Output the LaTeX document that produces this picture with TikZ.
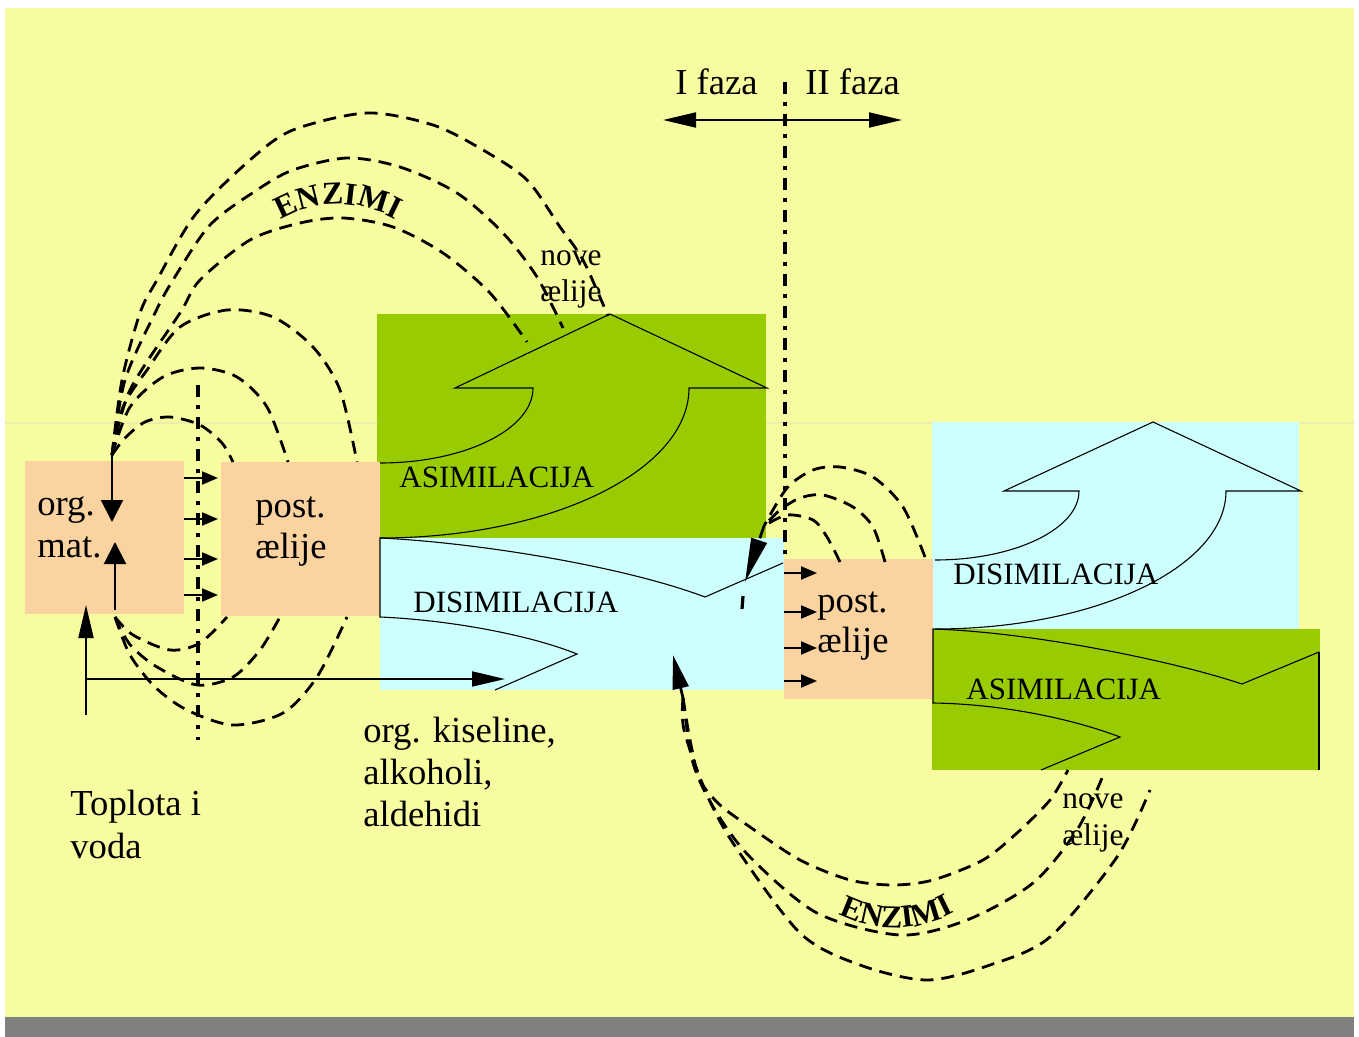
\documentclass[tikz,border=0pt]{standalone}
\usepackage{fontspec}
\setmainfont{Liberation Serif}
\usetikzlibrary{arrows.meta,decorations.text,fit}
\definecolor{bgyellow}{RGB}{248,252,160}
\definecolor{faintline}{RGB}{236,238,170}
\definecolor{peach}{RGB}{251,211,160}
\definecolor{leaf}{RGB}{153,204,0}
\definecolor{iceblue}{RGB}{206,255,255}
\definecolor{bargray}{RGB}{128,128,128}
\newcommand\enzfont{\fontsize{16}{18}\selectfont\bfseries}
\tikzset{
  fillbox/.style={inner sep=0pt, outer sep=0pt, draw=none},
  dsh/.style={line width=1.4pt, dash pattern=on 6.5pt off 4pt, line cap=butt},
  dashdotline/.style={line width=1.6pt, dash pattern=on 6pt off 4pt on 2pt off 4pt},
  outl/.style={line width=0.55pt},
  txtL/.style={inner sep=0pt, anchor=base west, font=\fontsize{18.3}{22}\selectfont},
  txtM/.style={inner sep=0pt, anchor=base west, font=\fontsize{15.5}{18}\selectfont},
  txtN/.style={inner sep=0pt, anchor=base west, font=\fontsize{15.7}{18}\selectfont},
  arrS/.style={line width=1pt, -{Triangle[length=8pt,width=6.5pt]}},
  arrL/.style={line width=1pt, -{Triangle[length=16.5pt,width=7.5pt]}},
  arrM/.style={line width=1pt, -{Triangle[length=11pt,width=11pt]}},
  enz/.style={decorate, decoration={text along path, text={|\enzfont|ENZIMI}, text align=center}},
}
\begin{document}
\begin{tikzpicture}[x=0.5pt,y=-0.5pt]
\useasboundingbox (0,0) rectangle (1359,1037);
\fill[white] (0,0) rectangle (1359,1037);
\fill[bgyellow] (5,8) rectangle (1354,1017);
\fill[bargray] (5,1017) rectangle (1354,1037);
\draw[faintline, line width=0.6pt] (5,423) -- (1354,423);

% boxes
\node[fillbox, fill=leaf, fit={(377,314) (766,539)}] (asimL) {};
\node[fillbox, fill=iceblue, fit={(380,538) (784,690)}] (disimL) {};
\node[fillbox, fill=peach, fit={(25,461) (184,614)}] (orgmat) {};
\node[fillbox, fill=peach, fit={(221,462) (380,616)}] (postL) {};
\node[fillbox, fill=iceblue, fit={(932,422) (1299,630)}] (disimR) {};
\node[fillbox, fill=leaf, fit={(932,629) (1320,770)}] (asimR) {};
\node[fillbox, fill=peach, fit={(784,559) (933,699)}] (postR) {};

% block arrow outlines
\draw[outl] (380,463) .. controls (464.5,463) and (533,429.4) .. (533,388) -- (455,388) -- (610,314) -- (767,388) -- (689,388) .. controls (689,470.8) and (550.6,538) .. (380,538);
\draw[outl] (783,563) -- (705,597) .. controls (620,565) and (470,542) .. (380,538) -- (380,617) .. controls (450,620) and (530,635) .. (577,654) -- (495,690);
\draw[outl] (935,560) .. controls (1014.5,560) and (1079,529) .. (1079,491) -- (1004,491) -- (1153,422) -- (1301,491) -- (1226,491) .. controls (1226,567) and (1095.6,629) .. (935,629);
\draw[outl] (1242,684) .. controls (1170,660) and (1030,632) .. (933,629) -- (933,703) .. controls (1000,704) and (1070,718) .. (1120,737) -- (1041,770);
\draw[outl] (1319,652) -- (1242,684);
\draw[line width=1pt] (1319,652) -- (1319,770);

% texts
\node[txtL] (t-org) at (37,515) {org.};
\node[txtL] (t-mat) at (37,557) {mat.};
\node[txtL] (t-post1) at (255,517) {post.};
\node[txtL] (t-cel1) at (255,558) {ælije};
\node[txtL] (t-post2) at (817,612) {post.};
\node[txtL] (t-cel2) at (817,652) {ælije};
\node[txtM] (t-asim1) at (399,487) {ASIMILACIJA};
\node[txtM] (t-disim1) at (413,612) {DISIMILACIJA};
\node[txtM] (t-disim2) at (953,584) {DISIMILACIJA};
\node[txtM] (t-asim2) at (966,699) {ASIMILACIJA};
\node[txtN] (t-nove1) at (540,266) {nove};
\node[txtN] (t-ncel1) at (540,302) {ælije};
\node[txtN] (t-nove2) at (1062,808) {nove};
\node[txtN] (t-ncel2) at (1062,845) {ælije};
\node[txtL] (t-kis1) at (363,742) {org. kiseline,};
\node[txtL] (t-kis2) at (363,784) {alkoholi,};
\node[txtL] (t-kis3) at (363,826) {aldehidi};
\node[txtL] (t-top1) at (70,815) {Toplota i};
\node[txtL] (t-top2) at (70,858) {voda};
\node[txtL] (t-f1) at (675,95) {I faza};
\node[txtL] (t-f2) at (805,95) {II faza};

\path[enz] (277,222) .. controls (316,198) and (358,198) .. (400,222);
\path[enz] (837,913) .. controls (876,933) and (917,933) .. (956,911);

% dash-dot phase lines
\draw[dashdotline] (198,385) -- (198,740);
\draw[dashdotline] (785,82) -- (785,560);

% coordinates
\coordinate (omTop) at (112,455);
\coordinate (omBot) at (115,617);
\coordinate (conv) at (764,526);
\coordinate (convTip) at (745,582);
\coordinate (btmBase) at (683,698);
\coordinate (btmTip) at (673,655);
\coordinate (phC) at (785,120);
\coordinate (phL) at (663,120);
\coordinate (phR) at (902,120);
\coordinate (heatLow) at (86,715);
\coordinate (heatUp) at (86,605);
\coordinate (heatCorner) at (86,679);
\coordinate (acidTip) at (505,679);

% left top small arcs
\draw[dsh] plot[smooth] coordinates {(omTop) (125,438) (145,422) (170,417) (200,425) (222,443) (233,462)};
\draw[dsh] plot[smooth] coordinates {(omTop) (130,407) (163,377) (200,368) (237,377) (267,407) (288,462)};
\draw[dsh] plot[smooth] coordinates {(omTop) (123,407) (147,370) (180,327) (227,310) (273,317) (313,347) (340,390) (357,462)};
% left big arcs to new cells
\draw[dsh] plot[smooth] coordinates {(omTop) (122,380) (140,313) (157,280) (195,215) (250,160) (293,130) (367,113) (433,125) (483,150) (527,180) (560,227) (583,260) (608,316)};
\draw[dsh] plot[smooth] coordinates {(omTop) (125,380) (155,313) (173,280) (210,225) (257,190) (293,170) (347,158) (400,167) (457,193) (503,233) (537,277) (563,328)};
\draw[dsh] plot[smooth] coordinates {(omTop) (130,390) (180,313) (200,280) (250,240) (300,223) (343,218) (393,227) (443,253) (490,293) (527,342)};
% left bottom arcs
\draw[dsh] plot[smooth] coordinates {(omBot) (133,635) (170,650) (200,643) (227,617)};
\draw[dsh] plot[smooth] coordinates {(omBot) (122,632) (133,648) (157,667) (197,685) (233,677) (260,650) (280,617)};
\draw[dsh] plot[smooth] coordinates {(omBot) (130,655) (155,687) (187,710) (233,725) (283,713) (317,677) (347,617)};

% right top arcs
\draw[dsh] plot[smooth] coordinates {(840,562) (827,537) (813,520) (787,515) (conv)};
\draw[dsh] plot[smooth] coordinates {(885,562) (873,527) (853,507) (823,495) (800,498) (780,510) (conv)};
\draw[dsh] plot[smooth] coordinates {(925,557) (903,507) (873,477) (840,467) (813,470) (787,488) (conv)};
\draw[dsh, -{Triangle[length=22pt,width=8pt]}] (conv) -- (convTip);
\draw[line width=1.6pt] (743,596) -- (742,609);

% bottom right arcs
\draw[dsh] plot[smooth] coordinates {(btmBase) (690,740) (700,780) (720,805) (750,827) (800,860) (850,880) (893,885) (933,880) (983,860) (1017,833) (1050,800) (1068,770)};
\draw[dsh] plot[smooth] coordinates {(btmBase) (693,763) (715,810) (750,857) (817,913) (900,935) (967,920) (1033,883) (1077,830) (1102,778)};
\draw[dsh] plot[smooth] coordinates {(btmBase) (684,730) (705,790) (733,843) (800,933) (860,965) (927,980) (990,965) (1050,937) (1117,857) (1150,790)};
\draw[line width=1.4pt, -{Triangle[length=17pt,width=8pt]}] (btmBase) -- (btmTip);

% solid arrows
\draw[arrM] (omTop) -- (112,522);
\draw[arrM] (115,610) -- (115,542);
\draw[arrL] (heatLow) -- (heatUp);
\draw[arrL] (heatCorner) -- (acidTip);
\draw[arrL] (phC) -- (phL);
\draw[arrL] (phC) -- (phR);
\foreach \yy in {478,519,559,595} \draw[arrS] (orgmat.east |- 0,\yy) -- (218,\yy);
\foreach \yy in {573,612,648,681} \draw[arrS] (postR.west |- 0,\yy) -- (817,\yy);
\end{tikzpicture}
\end{document}
